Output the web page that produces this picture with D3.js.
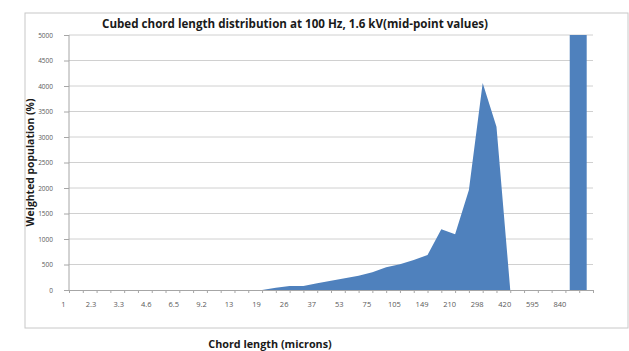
<!DOCTYPE html>
<meta charset="utf-8">
<style>
    body { margin: 0; background: #fff; }
    text { font-family: "Open Sans", "DejaVu Sans", sans-serif; }
    .grid line { stroke: #d0d0d0; stroke-width: 1px; }
    .axis path, .axis line { stroke: #a6a6a6; }
    .axis text { fill: #595959; font-size: 7px; }
    .title { font-weight: bold; fill: #1a1a1a; }
</style>
<svg width="629" height="351"></svg>
<script src="https://d3js.org/d3.v7.min.js"></script>
<script>

    // chord length bins (index 0..38), every second bin labelled
    var binCount = 39;
    var tickLabels = ["1", "2.3", "3.3", "4.6", "6.5", "9.2", "13", "19", "26", "37",
                      "53", "75", "105", "149", "210", "298", "420", "595", "840"];

    // weighted population (%) per bin
    var population = [0, 0, 0, 0, 0, 0, 0, 0, 0, 0,
                      0, 0, 0, 0, 0, 45, 78, 80, 130, 183,
                      229, 281, 346, 444, 503, 588, 686, 1190, 1092, 1960,
                      4057, 3200, 0, 0, 0, 0, 0, 0, 0];

    // oversize bin drawn as a column (off the scale)
    var columnBins = [37];
    var columnValues = [5000];

    var yTicks = d3.range(0, 5001, 500);

    var svg = d3.select("svg"),
        mLeft = 69, mRight = 593, mTop = 35, mBottom = 290;

    var x = d3.scalePoint().domain(d3.range(binCount)).range([mLeft, mRight]);
    var y = d3.scaleLinear().domain([0, 5000]).range([mBottom, mTop]);

    // chart frame
    svg.append("rect")
        .attr("x", 25).attr("y", 13)
        .attr("width", 603).attr("height", 315)
        .attr("fill", "#fff").attr("stroke", "#c8c8c8");

    svg.append("text").attr("class", "title")
        .attr("x", 295).attr("y", 28)
        .attr("text-anchor", "middle")
        .style("font-size", "11.6px")
        .text("Cubed chord length distribution at  100 Hz, 1.6 kV(mid-point values)");

    // gridlines
    svg.append("g").attr("class", "grid")
        .selectAll("line").data(yTicks.slice(1)).enter().append("line")
        .attr("x1", mLeft).attr("x2", mRight)
        .attr("y1", function (d) { return y(d); })
        .attr("y2", function (d) { return y(d); });

    var area = d3.area()
        .x(function (d, i) { return x(i); })
        .y0(y(0))
        .y1(function (d) { return y(d); });

    svg.append("path")
        .datum(population)
        .attr("fill", "#4f81bd")
        .attr("d", area);

    var bw = x.step() * 1.23;
    svg.append("g").selectAll("rect").data(columnValues).enter().append("rect")
        .attr("x", function (d, i) { return x(columnBins[i]) - bw / 2 - 1; })
        .attr("y", function (d) { return y(d); })
        .attr("width", bw)
        .attr("height", function (d) { return y(0) - y(d); })
        .attr("fill", "#4f81bd");

    // y axis
    var yAxis = svg.append("g").attr("class", "axis")
        .attr("transform", "translate(" + mLeft + ",0)")
        .call(d3.axisLeft(y).tickValues(yTicks).tickFormat(d3.format("d"))
            .tickSize(5).tickPadding(11).tickSizeOuter(0));
    yAxis.select(".domain").attr("d", "M0," + mTop + "V" + mBottom);
    yAxis.selectAll("text").style("font-size", "6.5px");

    // x axis
    var xAxis = svg.append("g").attr("class", "axis")
        .attr("transform", "translate(0," + mBottom + ")")
        .call(d3.axisBottom(x).tickSize(3).tickSizeOuter(0)
            .tickFormat(function (d) { return d % 2 === 0 ? tickLabels[d / 2] : ""; }));
    xAxis.selectAll("text")
        .attr("dx", -6)
        .attr("dy", "1.5em")
        .style("font-size", "7.5px");

    svg.append("text").attr("class", "title")
        .attr("transform", "translate(34," + (mTop + mBottom) / 2 + ") rotate(-90)")
        .attr("text-anchor", "middle")
        .style("font-size", "10.4px")
        .text("Weighted population (%)");

    svg.append("text").attr("class", "title")
        .attr("x", 270).attr("y", 348)
        .attr("text-anchor", "middle")
        .style("font-size", "10.8px")
        .text("Chord length (microns)");

</script>
